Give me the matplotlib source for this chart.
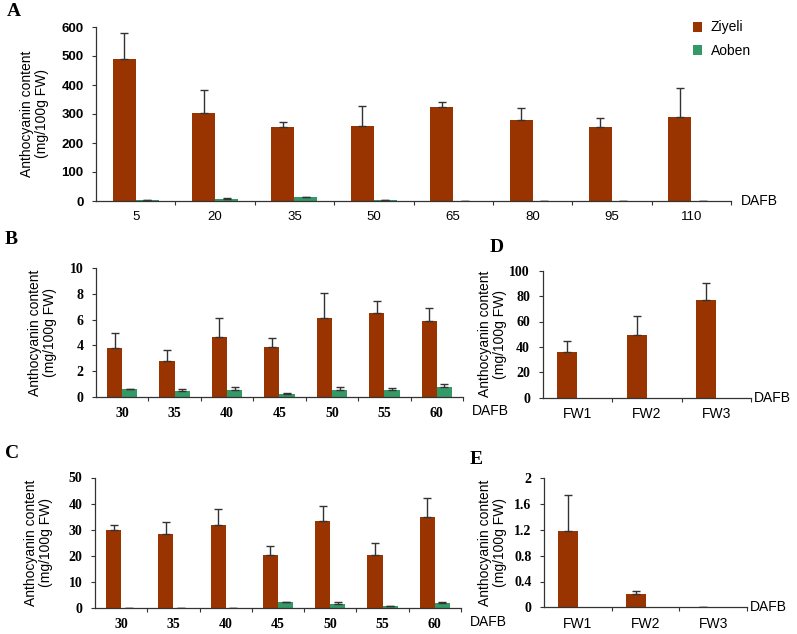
import matplotlib
matplotlib.use("Agg")
import matplotlib.pyplot as plt
import numpy as np
from matplotlib.patches import Patch

# ---------------- data ----------------
A_days = ['5', '20', '35', '50', '65', '80', '95', '110']
A_ziyeli = [488, 302, 255, 257, 325, 279, 255, 289]
A_ziyeli_err = [91, 82, 17, 70, 15, 43, 32, 100]
A_aoben = [2, 7, 13, 2, 1, 1, 0, 1]
A_aoben_err = [0, 5, 1, 0, 0, 0, 0, 0]

B_days = ['30', '35', '40', '45', '50', '55', '60']
B_ziyeli = [3.8, 2.77, 4.63, 3.88, 6.15, 6.54, 5.89]
B_ziyeli_err = [1.16, 0.9, 1.52, 0.69, 1.89, 0.88, 1.0]
B_aoben = [0.62, 0.44, 0.52, 0.26, 0.52, 0.52, 0.8]
B_aoben_err = [0.03, 0.21, 0.26, 0.04, 0.26, 0.18, 0.24]

C_days = ['30', '35', '40', '45', '50', '55', '60']
C_ziyeli = [29.9, 28.2, 31.9, 20.3, 33.3, 20.3, 34.9]
C_ziyeli_err = [2.0, 4.9, 5.9, 3.6, 5.8, 4.5, 7.4]
C_aoben = [0, 0, 0, 2.3, 1.4, 0.8, 1.9]
C_aoben_err = [0, 0, 0, 0.1, 0.8, 0.1, 0.4]

D_cats = ['FW1', 'FW2', 'FW3']
D_ziyeli = [36.0, 49.4, 76.7]
D_ziyeli_err = [8.4, 14.6, 13.6]

E_cats = ['FW1', 'FW2', 'FW3']
E_ziyeli = [1.18, 0.21, 0.0]
E_ziyeli_err = [0.56, 0.05, 0.0]

A_yticks = [0, 100, 200, 300, 400, 500, 600]
B_yticks = [0, 2, 4, 6, 8, 10]
C_yticks = [0, 10, 20, 30, 40, 50]
D_yticks = [0, 20, 40, 60, 80, 100]
E_yticks = [0, 0.4, 0.8, 1.2, 1.6, 2]
E_yticklabels = ['0', '0.4', '0.8', '1.2', '1.6', '2']

RED = '#993300'
GREEN = '#339966'
SANS = 'Liberation Sans'
SERIF = 'Liberation Serif'
YLABEL = 'Anthocyanin content\n(mg/100g FW)'

fig = plt.figure(figsize=(7.97, 6.34), dpi=100)


def make_panel(rect, cats, ziy, ziy_err, aob, aob_err, yticks, yticklabels,
               ytick_font, xtick_font, ylabel_x, letter, letter_xy,
               dafb_mode):
    ax = fig.add_axes(rect)
    n = len(cats)
    x = np.arange(n) + 0.5
    w = 0.29
    off = 0.145
    ax.bar(x - off, ziy, w, color=RED, zorder=2)
    ax.errorbar(x - off, ziy, yerr=[np.zeros(n), ziy_err], fmt='none',
                ecolor='#333333', elinewidth=1.0, capsize=3, capthick=1.0,
                zorder=3)
    if aob is not None:
        ax.bar(x + off, aob, w, color=GREEN, zorder=2)
        ax.errorbar(x + off, aob, yerr=[np.zeros(n), aob_err], fmt='none',
                    ecolor='#333333', elinewidth=1.0, capsize=3, capthick=1.0,
                    zorder=3)
    ax.set_xlim(0, n)
    ax.set_ylim(yticks[0], yticks[-1])
    for s in ['top', 'right']:
        ax.spines[s].set_visible(False)
    for s in ['left', 'bottom']:
        ax.spines[s].set_color('#333333')
        ax.spines[s].set_linewidth(0.9)
    ax.set_yticks(yticks)
    ax.set_yticklabels(yticklabels, fontfamily=ytick_font[0],
                       fontweight=ytick_font[1], fontsize=ytick_font[2])
    ax.set_xticks(np.arange(1, n + 1))
    ax.set_xticklabels([])
    ax.set_xticks(x, minor=True)
    ax.set_xticklabels(cats, minor=True, fontfamily=xtick_font[0],
                       fontweight=xtick_font[1], fontsize=xtick_font[2])
    ax.tick_params(axis='x', which='major', direction='out', length=3,
                   color='#333333')
    ax.tick_params(axis='x', which='minor', length=0, pad=7)
    ax.tick_params(axis='y', direction='out', length=3, color='#333333',
                   pad=6)
    ax.set_ylabel(YLABEL, fontfamily=SANS, fontsize=10, linespacing=1.1)
    ax.yaxis.set_label_coords(ylabel_x, 0.5)
    fig.text(letter_xy[0] / 797, 1 - letter_xy[1] / 634, letter,
             fontfamily=SERIF, fontweight='bold', fontsize=14,
             va='center', ha='center')
    if dafb_mode == 'axis':
        ax.text(1.015, 0, 'DAFB', transform=ax.transAxes, va='center',
                ha='left', fontfamily=SANS, fontsize=10)
    else:
        ax.text(1.025, -0.11, 'DAFB', transform=ax.transAxes, va='center',
                ha='left', fontfamily=SANS, fontsize=10)
    return ax


axA = make_panel([96 / 797, 1 - 201 / 634, 635 / 797, 174 / 634],
                 A_days, A_ziyeli, A_ziyeli_err, A_aoben, A_aoben_err,
                 A_yticks, [str(t) for t in A_yticks],
                 (SANS, 'bold', 9.5), (SANS, 'normal', 9.5),
                 -0.074, 'A', (14, 11), 'axis')

axB = make_panel([96 / 797, 1 - 397 / 634, 367 / 797, 129 / 634],
                 B_days, B_ziyeli, B_ziyeli_err, B_aoben, B_aoben_err,
                 B_yticks, [str(t) for t in B_yticks],
                 (SERIF, 'bold', 10), (SERIF, 'bold', 10),
                 -0.106, 'B', (11, 240), 'below')

axC = make_panel([95 / 797, 1 - 608 / 634, 366 / 797, 130.5 / 634],
                 C_days, C_ziyeli, C_ziyeli_err, C_aoben, C_aoben_err,
                 C_yticks, [str(t) for t in C_yticks],
                 (SERIF, 'bold', 10), (SERIF, 'bold', 10),
                 -0.115, 'C', (12, 454), 'below')

axD = make_panel([542.5 / 797, 1 - 397.7 / 634, 208.5 / 797, 127 / 634],
                 D_cats, D_ziyeli, D_ziyeli_err, None, None,
                 D_yticks, [str(t) for t in D_yticks],
                 (SERIF, 'bold', 10), (SANS, 'normal', 10),
                 -0.17, 'D', (497, 247), 'axis')

axE = make_panel([544 / 797, 1 - 607.3 / 634, 203 / 797, 129 / 634],
                 E_cats, E_ziyeli, E_ziyeli_err, None, None,
                 E_yticks, E_yticklabels,
                 (SERIF, 'bold', 10), (SANS, 'normal', 10),
                 -0.182, 'E', (476, 460), 'axis')

# legend
handles = [Patch(facecolor=RED, edgecolor='none', label='Ziyeli'),
           Patch(facecolor=GREEN, edgecolor='none', label='Aoben')]
fig.legend(handles=handles, loc='upper left',
           bbox_to_anchor=(680 / 797, 1 - 8 / 634), frameon=False,
           prop={'family': SANS, 'size': 10}, handlelength=0.7,
           handleheight=0.7, handletextpad=0.6, labelspacing=0.7)

fig.savefig('out.png', dpi=100)
